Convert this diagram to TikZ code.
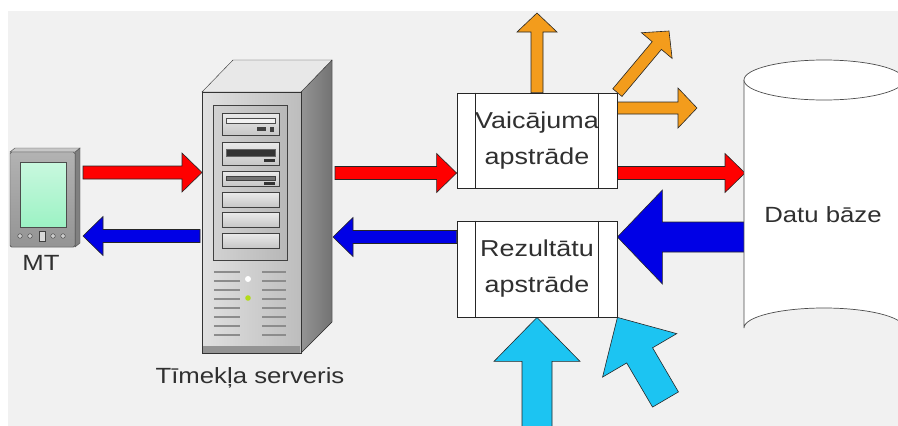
\documentclass[tikz,border=0pt]{standalone}
\usepackage{fontspec}
\setmainfont[FakeStretch=1.17]{Liberation Sans}
\usetikzlibrary{calc,backgrounds}

\definecolor{bgray}{HTML}{F1F1F1}
\definecolor{qorange}{HTML}{F39C1C}
\definecolor{rcyan}{HTML}{1CC4F2}
\definecolor{ablue}{HTML}{0000E6}
\definecolor{txt}{HTML}{303030}
\definecolor{screen}{HTML}{9CF2C4}

% block arrow: style, from, to, half shaft, half head, head length
\newcommand{\blockarrow}[6]{%
  \coordinate (ba-h) at ($(#3)!#6!(#2)$);
  \draw[#1] ($(#2)!#4!90:(#3)$) -- ($(ba-h)!#4!90:(#3)$) -- ($(ba-h)!#5!90:(#3)$) -- (#3)
    -- ($(ba-h)!#5!-90:(#3)$) -- ($(ba-h)!#4!-90:(#3)$) -- ($(#2)!#4!-90:(#3)$) -- cycle;
}

\begin{document}
\begin{tikzpicture}[x=1pt,y=-1pt,
  ba/.style={draw=black!85, line width=0.6pt, line join=miter},
  redba/.style={ba, fill=red},
  blueba/.style={ba, fill=ablue},
  orangeba/.style={ba, fill=qorange},
  cyanba/.style={ba, fill=rcyan},
  procbox/.style={draw=black!85, fill=white, line width=0.8pt, minimum width=160pt,
    inner sep=0pt, align=center, text=txt, font=\fontsize{23}{36}\selectfont},
  lbl/.style={anchor=base, text=txt, font=\fontsize{22}{26}\selectfont}]
 \useasboundingbox (0,0) rectangle (898,426);

 % processing blocks
 \node[procbox, minimum height=95pt] (vq) at (537,140.5) {Vaicājuma\\apstrāde};
 \node[procbox, minimum height=96pt] (rz) at (537,269) {Rezultātu\\apstrāde};
 \foreach \b in {vq,rz}
  \draw[black!85, line width=0.8pt] ([xshift=19pt]\b.north west) -- ([xshift=19pt]\b.south west)
   ([xshift=-19pt]\b.north east) -- ([xshift=-19pt]\b.south east);

 % end points of the arrows
 \coordinate (mtOut) at (83,172.5);
 \coordinate (srvIn) at (202,172.5);
 \coordinate (srvBack) at (200,236);
 \coordinate (mtIn) at (83,236);
 \coordinate (srvOut) at (335,173);
 \coordinate (srvRet) at (333,237);
 \coordinate (vqIn) at (vq.west |- srvOut);
 \coordinate (rzOut) at (rz.west |- srvRet);
 \coordinate (vqOut) at (vq.east |- srvOut);
 \coordinate (dbIn) at (745,173);
 \coordinate (dbOut) at (745,237);
 \coordinate (rzIn) at (rz.east |- dbOut);
 \coordinate (qUp) at (537,13);
 \coordinate (vqSide) at (617,108);
 \coordinate (qRight) at (697,108);
 \coordinate (qDiag) at (669,31);
 \coordinate (cUp) at (537,432);
 \coordinate (cDiag) at (665.5,399.5);

 \begin{scope}[on background layer]
  \fill[white] (0,0) rectangle (898,426);
  \fill[bgray] (8,11) rectangle (898,426);
  \blockarrow{redba}{mtOut}{srvIn}{6.5pt}{19.5pt}{20pt}
  \blockarrow{blueba}{srvBack}{mtIn}{6.5pt}{19.5pt}{20pt}
  \blockarrow{redba}{srvOut}{vqIn}{6.5pt}{19.5pt}{20pt}
  \blockarrow{blueba}{rzOut}{srvRet}{6.5pt}{19.5pt}{20pt}
  \blockarrow{redba}{vqOut}{dbIn}{6.5pt}{19.5pt}{20pt}
  \blockarrow{blueba}{dbOut}{rzIn}{15pt}{47pt}{45pt}
  \blockarrow{orangeba}{vq.north}{qUp}{6pt}{20pt}{19pt}
  \blockarrow{orangeba}{vqSide}{qRight}{6pt}{20pt}{19pt}
  \blockarrow{orangeba}{vq.north east}{qDiag}{6pt}{20pt}{19pt}
  \blockarrow{cyanba}{cUp}{rz.south}{15pt}{43pt}{44pt}
  \blockarrow{cyanba}{cDiag}{rz.south east}{15pt}{43pt}{44pt}
 \end{scope}

 % handheld terminal
 \filldraw[fill=black!50, draw=black!70] (75,152) -- (80,148) -- (80,243) -- (75,247) -- cycle;
 \filldraw[fill=black!22, draw=black!70] (10,152) -- (15,148) -- (80,148) -- (75,152) -- cycle;
 \filldraw[top color=black!30, bottom color=black!42, draw=black!75, rounded corners=1.5pt] (10,152) rectangle (75,247);
 \filldraw[top color=screen!55, bottom color=screen, draw=black!70] (20,162) rectangle (66,227);
 \foreach \x in {20,30,53,63}
  \draw[black!75, fill=black!20] (\x,236) circle (2.3);
 \draw[black!75, fill=black!15] (39.5,231) rectangle (45,241);
 \node[lbl] (mt) at (41,270) {MT};

 % web server
 \filldraw[left color=black!42, right color=black!55, draw=black!80] (301,92) -- (332,60) -- (332,322) -- (301,353) -- cycle;
 \filldraw[fill=black!9, draw=black!80] (202,92) -- (233,60) -- (332,60) -- (301,92) -- cycle;
 \filldraw[left color=black!12, right color=black!26, draw=black!80] (202,92) rectangle (301,353);
 \fill[black!42] (203,346) rectangle (300,352.5);
 \filldraw[left color=black!18, right color=black!28, draw=black!75, line width=1pt] (213,105) rectangle (287,260);
 \foreach \t/\b in {113/135,142/165,171/186,192/207,212/227,233/248}
  \filldraw[top color=black!8, bottom color=black!22, draw=black!75, line width=1pt] (222,\t) rectangle (279,\b);
 \draw[black!70, fill=black!5] (226,118) rectangle (275,123);
 \fill[black!75] (257,127) rectangle (266,131);
 \fill[black!75] (270,126.5) rectangle (274,131.5);
 \filldraw[fill=black!80, draw=black!60] (226,149) rectangle (275,156);
 \fill[black!80] (264,159) rectangle (275,162);
 \filldraw[fill=black!55, draw=black!75] (226,176) rectangle (275,180);
 \fill[black!80] (264,182) rectangle (275,185);
 \foreach \y in {272,281,...,335}
  \draw[black!45, line width=1.6pt] (214,\y) -- (240,\y) (262,\y) -- (286,\y);
 \fill[white] (248,279) circle (3);
 \fill[yellow!70!green] (248,298) circle (2.8);
 \node[lbl] (srv) at (250,383) {Tīmekļa serveris};

 % database
 \filldraw[fill=white, draw=black!70, line width=0.7pt] (744,80) -- (744,328) arc[start angle=180, end angle=360, x radius=80, y radius=20] -- (904,80);
 \draw[fill=white, draw=black!70, line width=0.7pt] (824,80) ellipse[x radius=80, y radius=20];
 \node[lbl] (db) at (823,222) {Datu bāze};
\end{tikzpicture}
\end{document}
